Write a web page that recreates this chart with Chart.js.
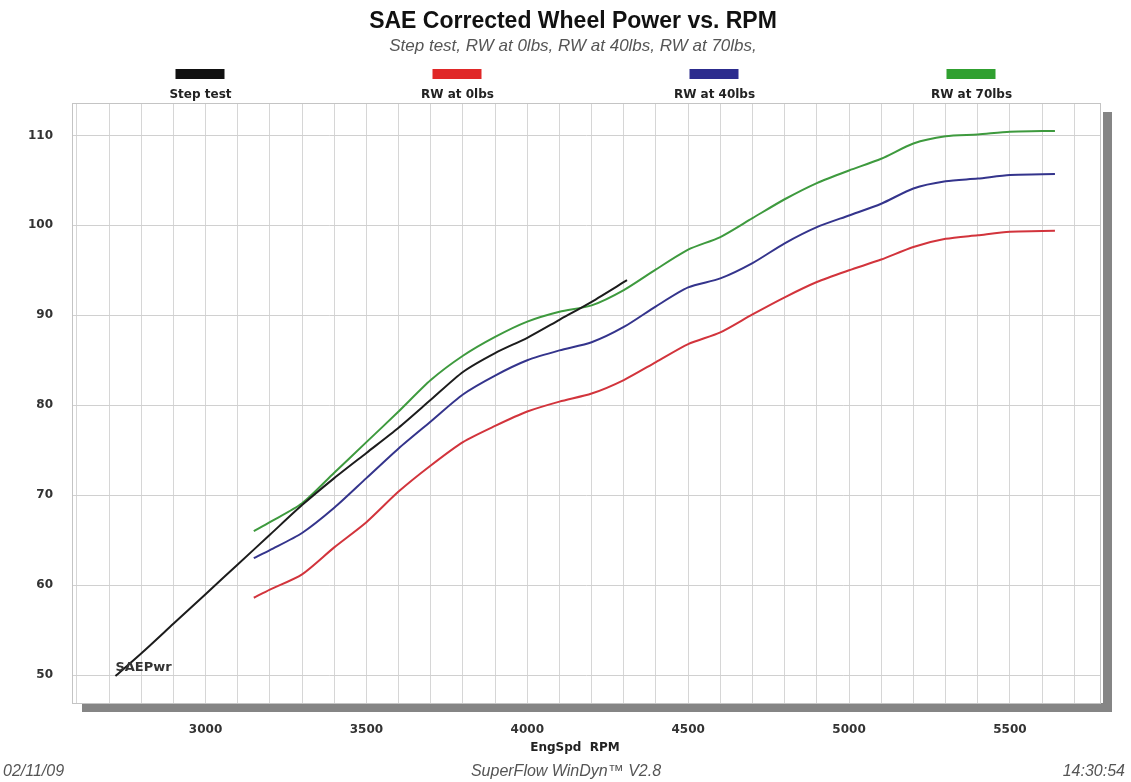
<!DOCTYPE html>
<html>
<head>
  <meta charset="utf-8" />
  <title>SAE Corrected Wheel Power vs. RPM</title>
  <style>
    body { margin: 0; background: #fff; }
  </style>
</head>
<body>
  <canvas id="stage" width="1131" height="782"></canvas>

  <script src="https://cdn.jsdelivr.net/npm/chart.js@4.4.0/dist/chart.umd.min.js"></script>
  <script>
    // Step test (black line)
    const stepRpm = [2720, 2800, 2900, 3000, 3100, 3200, 3300, 3400, 3500, 3600, 3700, 3800, 3900, 4000, 4100, 4200, 4310];
    const stepPwr = [49.9, 52.4, 55.7, 59.0, 62.3, 65.6, 68.9, 71.9, 74.7, 77.5, 80.6, 83.7, 85.8, 87.5, 89.5, 91.5, 93.9];

    // RW runs share the same rpm points
    const rwRpm = [3150, 3200, 3300, 3400, 3500, 3600, 3700, 3800, 3900, 4000, 4100, 4200, 4300,
                   4400, 4500, 4600, 4700, 4800, 4900, 5000, 5100, 5200, 5300, 5400, 5500, 5640];
    const rw0  = [58.6, 59.5, 61.2, 64.2, 67.0, 70.4, 73.3, 75.9, 77.7, 79.3, 80.4, 81.3, 82.8,
                  84.8, 86.8, 88.1, 90.1, 92.0, 93.7, 95.0, 96.2, 97.6, 98.5, 98.9, 99.3, 99.4];
    const rw40 = [63.0, 63.9, 65.8, 68.6, 71.9, 75.2, 78.2, 81.2, 83.3, 85.0, 86.1, 87.0, 88.7,
                  91.0, 93.1, 94.1, 95.8, 98.0, 99.8, 101.1, 102.4, 104.1, 104.9, 105.2, 105.6, 105.7];
    const rw70 = [66.0, 67.0, 69.1, 72.5, 75.9, 79.3, 82.8, 85.5, 87.6, 89.3, 90.4, 91.1, 92.8,
                  95.1, 97.3, 98.7, 100.8, 102.9, 104.7, 106.1, 107.4, 109.1, 109.9, 110.1, 110.4, 110.5];

    // tick labels
    const xTickLabels = [3000, 3500, 4000, 4500, 5000, 5500];
    const yTickLabels = [50, 60, 70, 80, 90, 100, 110];

    function toXY(xs, ys) {
      return xs.map((x, i) => ({ x: x, y: ys[i] }));
    }

    // plot frame with grey drop shadow
    const frame = {
      id: 'frame',
      beforeDraw(chart) {
        const { ctx, chartArea: a } = chart;
        ctx.save();
        ctx.fillStyle = '#fff';
        ctx.fillRect(0, 0, chart.width, chart.height);
        ctx.fillStyle = '#858585';
        ctx.fillRect(a.left + 10, a.top + 9, a.right - a.left + 2, a.bottom - a.top);
        ctx.fillStyle = '#fff';
        ctx.fillRect(a.left, a.top, a.right - a.left + 3, a.bottom - a.top);
        ctx.restore();
      },
      beforeDatasetsDraw(chart) {
        const { ctx, chartArea: a } = chart;
        ctx.save();
        ctx.strokeStyle = '#c4c4c4';
        ctx.lineWidth = 1;
        ctx.strokeRect(a.left + 0.5, a.top + 0.5, a.right - a.left, a.bottom - a.top);
        ctx.restore();
      }
    };

    // legend: swatch above label, spread over the plot width
    const topLegend = {
      id: 'topLegend',
      afterDraw(chart) {
        const { ctx, chartArea: a } = chart;
        const sets = chart.data.datasets;
        const slot = (a.right - a.left) / sets.length;
        ctx.save();
        ctx.font = 'bold 12px "DejaVu Sans"';
        ctx.textAlign = 'center';
        ctx.textBaseline = 'middle';
        sets.forEach((ds, i) => {
          const cx = a.left + slot * (i + 0.5);
          ctx.fillStyle = ds.swatch;
          ctx.fillRect(cx - 25, 69, 49, 10);
          ctx.fillStyle = '#222';
          ctx.fillText(ds.label, cx, 95);
        });
        ctx.restore();
      }
    };

    // axis title, curve tag and footer line
    const notes = {
      id: 'notes',
      afterDraw(chart) {
        const { ctx, scales } = chart;
        ctx.save();
        ctx.textBaseline = 'middle';

        ctx.fillStyle = '#222';
        ctx.font = 'bold 12px "DejaVu Sans"';
        ctx.textAlign = 'center';
        ctx.fillText('EngSpd  RPM', 575, 748);

        ctx.fillStyle = '#333';
        ctx.font = 'bold 13px "DejaVu Sans"';
        ctx.textAlign = 'left';
        ctx.fillText('SAEPwr', scales.x.getPixelForValue(stepRpm[0]), scales.y.getPixelForValue(stepPwr[0]) - 8);

        ctx.fillStyle = '#555';
        ctx.font = 'italic 16px "Liberation Sans"';
        ctx.textAlign = 'left';
        ctx.fillText('02/11/09', 3, 772);
        ctx.textAlign = 'right';
        ctx.fillText('14:30:54', 1125, 772);
        ctx.textAlign = 'center';
        ctx.fillText('SuperFlow WinDyn\u2122 V2.8', 566, 772);
        ctx.restore();
      }
    };

    Chart.defaults.font.family = '"DejaVu Sans", sans-serif';

    const mydata = {
      datasets: [{
        label: 'Step test',
        data: toXY(stepRpm, stepPwr),
        borderColor: '#1c1c1c',
        swatch: '#111',
      }, {
        label: 'RW at 0lbs',
        data: toXY(rwRpm, rw0),
        borderColor: '#d2343c',
        swatch: '#e02828',
      }, {
        label: 'RW at 40lbs',
        data: toXY(rwRpm, rw40),
        borderColor: '#34348c',
        swatch: '#2c2c8e',
      }, {
        label: 'RW at 70lbs',
        data: toXY(rwRpm, rw70),
        borderColor: '#3e9a3e',
        swatch: '#30a030',
      }]
    };

    new Chart(document.getElementById('stage'), {
      type: 'line',
      data: mydata,
      options: {
        responsive: false,
        animation: false,
        layout: { padding: { left: 15, right: 0, top: 0, bottom: 40 } },
        elements: {
          point: { radius: 0 },
          line: { borderWidth: 2, tension: 0.25 }
        },
        plugins: {
          legend: { display: false },
          tooltip: { enabled: false },
          title: {
            display: true,
            text: 'SAE Corrected Wheel Power vs. RPM',
            color: '#111',
            font: { family: '"Liberation Sans"', size: 23, weight: 'bold', lineHeight: 1.2 },
            padding: { top: 8, bottom: 0 }
          },
          subtitle: {
            display: true,
            text: 'Step test, RW at 0lbs, RW at 40lbs, RW at 70lbs,',
            color: '#555',
            font: { family: '"Liberation Sans"', size: 17, style: 'italic', lineHeight: 1.2 },
            padding: { top: 0, bottom: 47 }
          }
        },
        scales: {
          x: {
            type: 'linear',
            min: 2585,
            max: 5780,
            afterFit(scale) { scale.height = 39; },
            afterBuildTicks(scale) {
              // grid every 100 rpm
              const t = [];
              for (let v = 2600; v <= 5700; v += 100) t.push({ value: v });
              scale.ticks = t;
            },
            border: { color: '#c4c4c4' },
            grid: { color: '#d6d6d6', drawTicks: false },
            ticks: {
              autoSkip: false,
              maxRotation: 0,
              padding: 20,
              color: '#333',
              font: { size: 12, weight: 'bold' },
              callback: v => xTickLabels.includes(v) ? String(v) : ''
            }
          },
          y: {
            min: 46.9,
            max: 113.6,
            afterFit(scale) { scale.width = 57; },
            border: { color: '#c4c4c4' },
            grid: { color: '#d0d0d0', drawTicks: false },
            ticks: {
              stepSize: 10,
              autoSkip: false,
              padding: 19,
              color: '#333',
              font: { size: 12, weight: 'bold' },
              callback: v => yTickLabels.includes(v) ? String(v) : ''
            }
          },
          // empty strip on the right so the plot stops short of the edge
          gap: {
            position: 'right',
            afterFit(scale) { scale.width = 31; },
            grid: { display: false },
            border: { display: false },
            ticks: { display: false }
          }
        }
      },
      plugins: [frame, topLegend, notes]
    });
  </script>
</body>
</html>
